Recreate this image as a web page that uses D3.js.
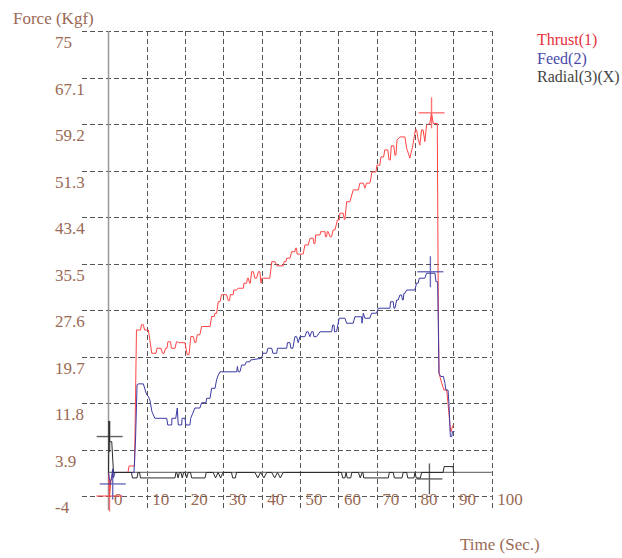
<!DOCTYPE html>
<meta charset="utf-8">
<style>
body { margin: 0; background: #fff; }
svg text { font-family: "Liberation Serif", serif; font-size: 17px; fill: #9a6a55; }
svg text.leg { font-size: 16px; }
.grid line { stroke: #555; stroke-width: 1; stroke-dasharray: 5,3; }
.series { fill: none; stroke-width: 1; stroke-linejoin: round; }
</style>
<body>
<script src="https://d3js.org/d3.v7.min.js"></script>
<script>
// tick values / labels
const yTicks = [-4, 3.9, 11.8, 19.7, 27.6, 35.5, 43.4, 51.3, 59.2, 67.1, 75];
const yLabels = ["-4", "3.9", "11.8", "19.7", "27.6", "35.5", "43.4", "51.3", "59.2", "67.1", "75"];
const xTicks = [0, 10, 20, 30, 40, 50, 60, 70, 80, 90, 100];

const seriesNames = ["Thrust(1)", "Feed(2)", "Radial(3)(X)"];

// [time (s), force (Kgf)]
const thrust = [[0,0],[0.26,-4.0],[0.65,-1.3],[1.2,0],[5.1,0],[5.35,1.1],[6.8,1.1],[7.3,24.2],[8.35,24.2],[8.6,25.1],[9.1,25.1],[9.4,24.2],[10.4,24.2],[11.3,20.25],[12.4,20.25],[12.65,21.1],[13.7,21.1],[14.1,20.25],[14.5,20.25],[14.9,21.1],[15.25,21.1],[15.5,22.2],[16.2,22.2],[16.4,21.1],[17.35,21.1],[17.75,22.2],[18.1,22.2],[18.3,22.05],[19.95,22.05],[20.55,20.0],[21.0,20.0],[21.5,23.1],[22.1,23.1],[22.55,22.05],[22.8,22.05],[23.15,23.4],[23.85,23.4],[24.3,24.8],[26.5,24.8],[26.9,26.5],[27.6,26.5],[27.8,27.05],[28.2,27.05],[28.65,29.0],[29.1,29.0],[29.5,30.2],[30.8,30.2],[31.25,29.2],[31.6,29.2],[31.8,30.2],[32.55,30.2],[32.7,31.0],[33.45,31.0],[33.8,31.3],[35.2,31.3],[35.35,32.15],[36.05,32.15],[36.25,33.0],[36.5,33.0],[36.8,32.15],[37.0,32.15],[37.35,34.1],[37.8,34.1],[38.2,33.0],[38.65,33.0],[39.1,34.1],[39.5,34.1],[39.8,32.15],[40.0,33.0],[42.1,33.0],[42.6,35.8],[43.45,35.8],[44.0,35.1],[45.6,35.1],[45.8,35.8],[46.3,35.8],[46.5,36.4],[47.35,36.4],[47.8,37.5],[48.65,37.5],[48.8,38.1],[49.1,38.1],[49.2,37.1],[50.8,37.1],[51.25,38.65],[52.1,38.65],[52.6,39.8],[53.4,39.8],[53.6,38.9],[53.9,38.9],[54.05,40.35],[55.2,40.35],[55.35,40.9],[56.5,40.9],[56.6,40.05],[56.9,40.05],[57.1,40.9],[57.35,40.9],[57.8,40.05],[58.2,40.05],[58.65,41.2],[59.1,41.2],[59.75,42.9],[60.2,42.9],[60.4,44.05],[61.25,44.05],[61.55,43.0],[61.7,43.0],[62.15,46.0],[63.0,46.0],[63.85,48.0],[65.2,48.0],[65.6,49.15],[66.5,49.15],[66.9,48.3],[67.35,49.15],[68.2,49.15],[68.4,49.7],[68.75,51.05],[69.8,51.05],[70.05,52.2],[70.8,52.2],[71.1,53.6],[71.8,53.6],[72.1,54.8],[72.9,54.8],[73.2,53.1],[73.55,53.1],[73.8,55.5],[74.45,55.5],[74.75,53.9],[75.0,53.9],[75.3,56.5],[76.05,57.0],[77.35,57.0],[77.8,55.1],[78.65,53.4],[79.4,55.5],[80.1,58.2],[80.4,58.2],[80.75,56.8],[81.25,55.6],[81.7,58.2],[82.1,58.2],[82.55,56.2],[83.0,59.0],[83.85,59.3],[84.3,61.0],[84.75,59.3],[85.8,59.3],[86.05,29.3],[86.25,16.85],[86.95,15.2],[87.55,14.0],[88.25,14.0],[88.6,11.8],[89.1,8.1],[89.35,6.9],[89.95,8.1]];

const feed = [[0,0],[0.4,-1.95],[0.8,-0.9],[1.05,0.4],[1.3,-0.9],[1.7,0],[6.65,0],[7.05,5.5],[7.45,14.9],[7.8,15.05],[9.1,15.05],[9.95,13.2],[10.4,12.9],[10.8,12.3],[11.35,10.3],[12.1,9.2],[15.2,9.2],[15.45,8.07],[16.5,8.07],[16.55,9.2],[17.55,9.2],[17.95,10.95],[18.2,8.07],[19.1,8.07],[19.2,9.2],[19.95,9.2],[20.2,8.07],[21.25,8.07],[21.45,9.2],[22.55,10.95],[23.85,10.95],[24.3,11.85],[25.45,11.85],[25.6,12.6],[26.5,12.6],[26.9,14.3],[27.8,14.3],[28.2,15.7],[28.55,16.4],[29.1,17.1],[33.45,17.1],[33.65,18.0],[33.85,17.1],[34.3,17.1],[34.75,18.25],[35.6,18.25],[36.0,18.8],[36.9,18.8],[37.05,19.1],[39.95,19.4],[40.3,20.25],[41.25,20.25],[41.6,21.1],[42.6,21.1],[42.9,20.25],[43.9,20.25],[44.1,21.1],[46.5,21.1],[46.7,22.05],[47.35,22.05],[47.6,21.1],[48.1,21.1],[48.65,23.07],[49.1,23.07],[49.5,22.05],[49.95,23.07],[51.25,23.07],[51.7,23.9],[52.1,23.9],[52.55,23.07],[53.0,23.9],[53.4,23.9],[53.6,23.07],[54.3,23.07],[55.2,23.9],[58.25,23.9],[58.5,25.05],[58.85,25.05],[59.0,23.9],[59.5,23.9],[60.2,26.2],[61.7,26.2],[62.15,25.35],[63.85,25.35],[64.3,26.45],[66.05,26.45],[66.15,25.35],[66.5,27.05],[66.9,26.2],[68.2,26.2],[68.65,27.05],[69.95,27.05],[70.4,27.9],[73.45,27.9],[73.6,29.0],[74.3,29.0],[74.5,27.9],[74.75,27.9],[75.2,29.3],[75.6,29.3],[76.05,30.15],[76.5,30.15],[76.7,29.3],[76.9,29.3],[77.1,30.45],[77.35,30.45],[77.8,31.0],[79.95,31.0],[80.4,32.15],[80.8,32.15],[81.1,33.0],[82.55,33.0],[83.0,33.85],[85.2,33.85],[85.45,32.4],[85.9,32.4],[86.25,16.85],[86.7,16.3],[87.4,16.3],[87.8,15.15],[88.05,14.0],[88.6,14.0],[88.85,11.75],[89.2,6.1],[89.6,6.1],[89.75,6.95],[90.25,6.95]];

const radial = [[0,0],[0.13,8.75],[0.26,5.23],[0.85,5.23],[1.3,0],[6.0,0],[6.25,-0.93],[7.45,-0.93],[7.7,0],[8.1,0],[8.35,-0.93],[17.35,-0.93],[17.6,0],[17.8,0],[18.15,-0.93],[18.5,0],[18.9,0],[19.25,-0.93],[19.6,0],[20.0,0],[20.4,-0.93],[20.8,0],[21.4,0],[21.7,-0.93],[25.2,-0.93],[25.5,0],[27.3,0],[27.95,-0.93],[28.6,0],[29.25,-0.93],[29.9,0],[32.1,0],[32.4,-0.93],[33.1,-0.93],[33.4,0],[38.2,0],[38.95,-0.93],[39.7,0],[40.55,-0.93],[41.3,0],[42.6,0],[43.35,-0.93],[44.1,0],[44.85,-0.93],[45.6,0],[60.8,0],[61.1,-0.93],[61.7,-0.93],[62.0,0],[62.3,-0.93],[63.2,-0.93],[63.5,0],[65.2,0],[65.7,-0.93],[66.2,0],[66.4,0],[66.6,-0.93],[73.0,-0.93],[73.3,0],[74.3,0],[74.6,-0.93],[76.6,-0.93],[76.9,0],[77.8,0],[78.1,-0.93],[79.7,-0.93],[80.0,0],[80.3,-0.93],[81.4,-0.93],[81.7,0],[87.3,0],[87.6,1.0],[89.9,1.0],[90.1,0],[90.5,0]];

// max / min markers: time, value, series index
const markT = [84.3, 84.0, 0.3, 0.26, 1.1, 83.75];
const markV = [61.1, 34.1, 6.1, -4.0, -1.95, -1.1];
const markS = [0, 1, 2, 0, 1, 2];

const colors = ["#ff4545", "#3b3ba3", "#2a2a2a"];
const legendColors = ["#e8323c", "#4a4aaa", "#444"];

const W = 622, H = 558;
const svg = d3.select("body").append("svg").attr("width", W).attr("height", H);

const x = d3.scaleLinear().domain([0, 100]).range([108.5, 491.7]);
const y = d3.scaleLinear().domain([-4, 75]).range([496, 31]);

// dashed grid
const grid = svg.append("g").attr("class", "grid");
grid.selectAll("line.h").data(yTicks).join("line").attr("class", "h")
  .attr("x1", 82).attr("x2", x(100))
  .attr("y1", d => Math.round(y(d)) + 0.5).attr("y2", d => Math.round(y(d)) + 0.5);
grid.selectAll("line.v").data(xTicks.slice(1)).join("line").attr("class", "v")
  .attr("x1", d => Math.round(x(d)) + 0.5).attr("x2", d => Math.round(x(d)) + 0.5)
  .attr("y1", y(75)).attr("y2", 509);

// solid axis and zero line
svg.append("line").attr("x1", x(0)).attr("x2", x(0)).attr("y1", y(75)).attr("y2", 510)
  .attr("stroke", "#999").attr("stroke-width", 1.5);
svg.append("line").attr("x1", x(0)).attr("x2", x(100)).attr("y1", y(0)).attr("y2", y(0))
  .attr("stroke", "#777").attr("stroke-width", 1.2);

// tick labels
svg.selectAll("text.yl").data(yTicks).join("text").attr("class", "yl")
  .attr("x", 55).attr("y", d => y(d) + 17)
  .text((d, i) => yLabels[i]);
svg.selectAll("text.xl").data(xTicks).join("text").attr("class", "xl")
  .attr("x", d => x(d) + 5.5).attr("y", 505)
  .text(d => d);

svg.append("text").attr("x", 13).attr("y", 24).text("Force (Kgf)");
svg.append("text").attr("x", 460).attr("y", 550).text("Time (Sec.)");

// series
const line = d3.line().x(d => x(d[0])).y(d => y(d[1]));
[thrust, feed, radial].forEach((s, i) => {
  svg.append("path").datum(s).attr("class", "series")
    .attr("stroke", colors[i]).attr("d", line);
});

// cross markers
markT.forEach((t, i) => {
  const cx = x(t), cy = y(markV[i]);
  const g = svg.append("g").attr("stroke", colors[markS[i]]).attr("stroke-width", 1.4).attr("opacity", 0.75);
  g.append("line").attr("x1", cx - 13).attr("x2", cx + 13).attr("y1", cy).attr("y2", cy);
  g.append("line").attr("x1", cx).attr("x2", cx).attr("y1", cy - 15.5).attr("y2", cy + 15.5);
});

// legend
const legY = [45, 63.5, 82];
svg.selectAll("text.leg").data(seriesNames).join("text").attr("class", "leg")
  .attr("x", 537).attr("y", (d, i) => legY[i])
  .style("fill", (d, i) => legendColors[i])
  .text(d => d);
</script>
